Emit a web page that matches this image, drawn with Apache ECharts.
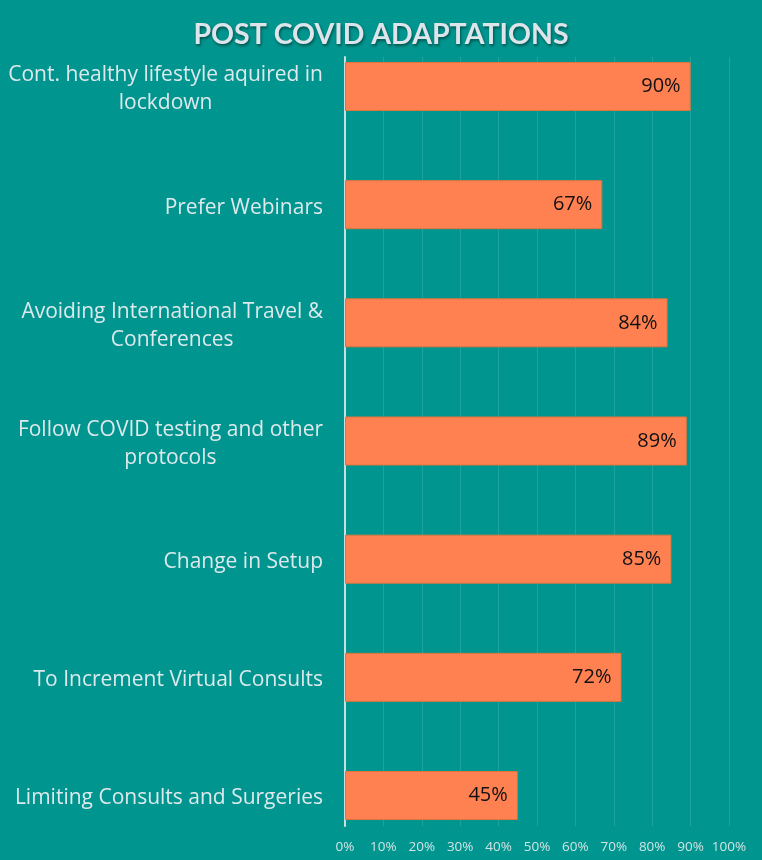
<!DOCTYPE html>
<html>
<head>
<meta charset="utf-8">
<script src="https://cdn.jsdelivr.net/npm/echarts@6/dist/echarts.min.js"></script>
<style>
html,body{margin:0;padding:0;background:#00968f;}
#c{width:762px;height:860px;}
</style>
</head>
<body>
<div id="c"></div>
<script>
const titleText = 'POST COVID ADAPTATIONS';
const categories = [
  'Cont. healthy lifestyle aquired in\nlockdown',
  'Prefer Webinars',
  'Avoiding International Travel &\nConferences',
  'Follow COVID testing and other\nprotocols',
  'Change in Setup',
  'To Increment Virtual Consults',
  'Limiting Consults and Surgeries'
];
const values = [90, 67, 84, 89, 85, 72, 45];
const tickValues = [0, 10, 20, 30, 40, 50, 60, 70, 80, 90, 100];

const FONT = '"Open Sans"';
const chart = echarts.init(document.getElementById('c'), null, {renderer: 'canvas'});
chart.setOption({
  backgroundColor: '#00968f',
  animation: false,
  title: {
    text: titleText,
    left: 'center',
    top: 15,
    textStyle: {
      color: '#dde4ea', fontFamily: 'Lato', fontWeight: 'bold', fontSize: 28.5,
      textShadowColor: 'rgba(0,0,0,0.45)', textShadowBlur: 3, textShadowOffsetX: 1, textShadowOffsetY: 2
    }
  },
  grid: [
    {left: 345, right: 33, top: 27.4, bottom: 5.4},
    {left: 345, right: 33, top: 57, bottom: 34}
  ],
  xAxis: [
    {gridIndex: 0, type: 'value', min: 0, max: 100, show: false},
    {gridIndex: 1, type: 'value', min: 0, max: 100, interval: 10,
      axisLine: {show: false}, axisTick: {show: false},
      splitLine: {show: true, lineStyle: {color: 'rgba(255,255,255,0.13)', width: 1}},
      axisLabel: {color: '#cfe3e3', fontFamily: FONT, fontSize: 13.5, margin: 14,
        formatter: v => v + '%'}
    }
  ],
  yAxis: [
    {gridIndex: 0, type: 'category', data: categories, inverse: true,
      axisLine: {show: false}, axisTick: {show: false}, splitLine: {show: false},
      axisLabel: {
        margin: 22, align: 'right', color: '#dde9ec', fontFamily: FONT, fontSize: 21,
        lineHeight: 28, padding: [6, 0, 0, 0],
        formatter: v => v.split('\n').map(s => '{c|' + s + '}').join('\n'),
        rich: {c: {align: 'center', color: '#dde9ec', fontFamily: FONT, fontSize: 21, lineHeight: 28}}
      }
    },
    {gridIndex: 1, type: 'value', min: 0, max: 1,
      axisLine: {show: true, lineStyle: {color: '#c9dede', width: 2}},
      axisTick: {show: false}, axisLabel: {show: false}, splitLine: {show: false}
    }
  ],
  series: [{
    type: 'bar',
    xAxisIndex: 0, yAxisIndex: 0,
    data: values,
    barWidth: 49,
    itemStyle: {color: '#ff8152', borderColor: '#e0753c', borderWidth: 1},
    label: {
      show: true, position: 'insideRight', distance: 10,
      formatter: p => p.value + '%',
      color: '#111', fontFamily: FONT, fontSize: 20
    }
  }]
});
</script>
</body>
</html>
